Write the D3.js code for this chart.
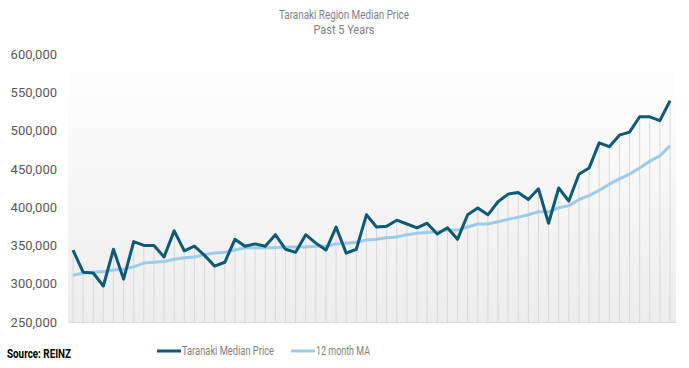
<!DOCTYPE html>
<html>
<head>
<meta charset="utf-8">
<script src="https://cdn.jsdelivr.net/npm/d3@7"></script>
<style>
  body { margin: 0; background: #fff; }
  svg { display: block; font-family: Roboto, "Noto Sans", sans-serif; }
</style>
</head>
<body>
<div class="chart"></div>
<script>
// monthly median price, last 60 months (thousands)
var medianPrice = [344, 315, 314, 297, 345, 306, 355, 350, 350, 335, 369, 343, 349, 337, 323, 328, 358, 349, 352, 349,
    364, 345, 341, 364, 353, 344, 374, 340, 345, 390, 374, 375, 383, 378, 373, 379, 365, 373, 358, 390,
    399, 390, 407, 417, 419, 410, 424, 379, 425, 408, 443, 451, 484, 479, 494, 498, 518, 518, 513, 539]
var movingAvg = [311, 314, 315, 316, 318, 319, 322, 327, 328, 329, 332, 334, 335, 338, 340, 341, 344, 347, 347, 347,
    347, 348, 348, 348, 349, 349, 352, 353, 354, 357, 358, 360, 361, 364, 366, 367, 368, 370, 370, 374,
    378, 378, 381, 384, 387, 390, 394, 394, 399, 402, 410, 415, 422, 430, 437, 443, 451, 460, 467, 480]
var yTicks = [250000, 300000, 350000, 400000, 450000, 500000, 550000, 600000]
var seriesNames = ['Taranaki Median Price', '12 month MA']

var width = 689, height = 368
var svg = d3.select(".chart").append("svg")
    .attr("width", width)
    .attr("height", height)

var plot = {left: 68, right: 676, top: 54, bottom: 322}

var xScale = d3.scaleLinear().domain([0, medianPrice.length - 1]).range([73, 670])
var yScale = d3.scaleLinear().domain([250000, 600000]).range([plot.bottom, plot.top])

// plot background gradient
var grad = svg.append("defs").append("linearGradient")
    .attr("id", "bg").attr("x1", 0).attr("y1", 0).attr("x2", 0).attr("y2", 1)
grad.append("stop").attr("offset", "0%").attr("stop-color", "#ffffff")
grad.append("stop").attr("offset", "100%").attr("stop-color", "#ededed")

svg.append("rect")
    .attr("x", plot.left).attr("y", plot.top)
    .attr("width", plot.right - plot.left).attr("height", plot.bottom - plot.top)
    .style("fill", "url(#bg)")

// title
svg.append("text").attr("x", 344).attr("y", 19)
    .attr("text-anchor", "middle").style("font-size", "12px").style("fill", "#7f7f7f")
    .attr("textLength", 130).attr("lengthAdjust", "spacingAndGlyphs")
    .text("Taranaki Region Median Price")
svg.append("text").attr("x", 344).attr("y", 34)
    .attr("text-anchor", "middle").style("font-size", "12px").style("fill", "#7f7f7f")
    .attr("textLength", 61).attr("lengthAdjust", "spacingAndGlyphs")
    .text("Past 5 Years")

// y axis
var yAxis = d3.axisLeft(yScale).tickValues(yTicks).tickFormat(d3.format(",")).tickSize(0).tickPadding(11)
var gy = svg.append("g").attr("transform", "translate(" + plot.left + ",0)").call(yAxis)
gy.select(".domain").remove()
gy.selectAll("text").style("font-size", "13px").style("fill", "#595959").style("font-family", "Roboto, sans-serif")

// drop lines
svg.append("g").selectAll("line.drop")
    .data(medianPrice)
    .enter().append("line")
    .attr("class", "drop")
    .attr("x1", function(d, i) { return xScale(i) })
    .attr("x2", function(d, i) { return xScale(i) })
    .attr("y1", function(d) { return yScale(d * 1000) })
    .attr("y2", plot.bottom)
    .style("stroke", "#d9d9d9").style("stroke-width", 1)

// bottom axis line
var xAxis = d3.axisBottom(d3.scaleLinear().range([plot.left, plot.right])).tickValues([]).tickSizeOuter(0)
svg.append("g").attr("transform", "translate(0," + plot.bottom + ")").call(xAxis)
    .select(".domain").style("stroke", "#d9d9d9")

var line = d3.line()
    .x(function(d, i) { return xScale(i) })
    .y(function(d) { return yScale(d * 1000) })

svg.append("path").datum(movingAvg)
    .attr("d", line)
    .style("fill", "none").style("stroke", "#9dcbea").style("stroke-width", 3)
    .style("stroke-linejoin", "round")

svg.append("path").datum(medianPrice)
    .attr("d", line)
    .style("fill", "none").style("stroke", "#0d5a76").style("stroke-width", 3)
    .style("stroke-linejoin", "round")

// legend
var legend = [
    {name: seriesNames[0], color: "#0d5a76", x: 157, w: 92},
    {name: seriesNames[1], color: "#9dcbea", x: 291, w: 54}
]
var lg = svg.append("g").selectAll("g").data(legend).enter().append("g")
    .attr("transform", function(d) { return "translate(" + d.x + ",351)" })
lg.append("line").attr("x1", 0).attr("x2", 24).attr("y1", 0).attr("y2", 0)
    .style("stroke", function(d) { return d.color }).style("stroke-width", 3)
lg.append("text").attr("x", 25).attr("y", 4)
    .style("font-size", "12px").style("fill", "#7f7f7f")
    .attr("textLength", function(d) { return d.w }).attr("lengthAdjust", "spacingAndGlyphs")
    .text(function(d) { return d.name })

// source
svg.append("text").attr("x", 7).attr("y", 358)
    .style("font-size", "12px").style("font-weight", "bold").style("fill", "#000")
    .attr("textLength", 64).attr("lengthAdjust", "spacingAndGlyphs")
    .text("Source: REINZ")
</script>
</body>
</html>
